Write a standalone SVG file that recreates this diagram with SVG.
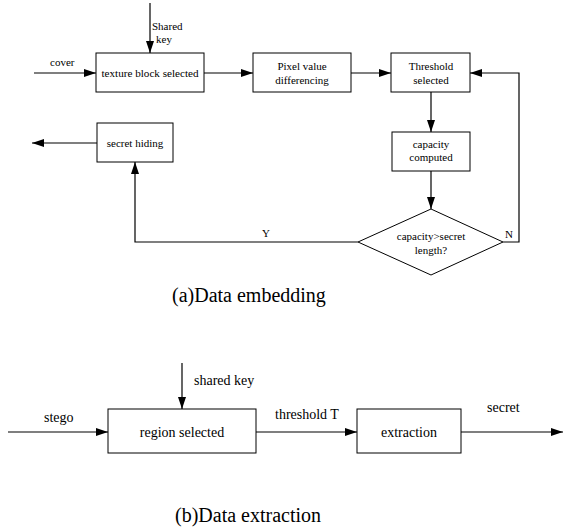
<svg xmlns="http://www.w3.org/2000/svg" width="564" height="528" viewBox="0 0 564 528">
<defs>
<marker id="ah" markerWidth="12" markerHeight="8" refX="12" refY="4" orient="auto" markerUnits="userSpaceOnUse">
<path d="M0,0 L12,4 L0,8 Z" fill="#000"/>
</marker>
<style>
.box{fill:#fff;stroke:#000;stroke-width:1}
.ar{fill:none;stroke:#000;stroke-width:1.2;marker-end:url(#ah)}
text{font-family:"Liberation Serif","Times New Roman",serif;fill:#000}
.s{font-size:11px}
.m{font-size:14px}
.c{font-size:20px}
.mid{text-anchor:middle}
</style>
</defs>
<rect width="564" height="528" fill="#fff"/>
<g id="connectors">
<line class="ar" x1="150" y1="3" x2="150" y2="53"/>
<line class="ar" x1="34" y1="73" x2="96" y2="73"/>
<line class="ar" x1="204" y1="73" x2="253" y2="73"/>
<line class="ar" x1="351" y1="73" x2="391" y2="73"/>
<line class="ar" x1="431" y1="92" x2="431" y2="132"/>
<line class="ar" x1="431" y1="171" x2="431" y2="209"/>
<polyline class="ar" points="503,242 519,242 519,73 470,73"/>
<polyline class="ar" points="358,242 135,242 135,162"/>
<line class="ar" x1="97" y1="143" x2="32" y2="143"/>
<line class="ar" x1="182" y1="363" x2="182" y2="409"/>
<line class="ar" x1="8" y1="432" x2="108" y2="432"/>
<line class="ar" x1="256" y1="432" x2="357" y2="432"/>
<line class="ar" x1="461" y1="432" x2="563" y2="432"/>
</g>
<g id="n_texture"><rect class="box" x="96" y="53" width="108" height="39"/><text class="s mid" x="150" y="77" textLength="97" lengthAdjust="spacingAndGlyphs">texture block selected</text></g>
<g id="n_pvd"><rect class="box" x="253" y="53" width="98" height="39"/><text class="s mid" x="302" y="70">Pixel value</text><text class="s mid" x="302" y="84">differencing</text></g>
<g id="n_threshold"><rect class="box" x="391" y="53" width="79" height="39"/><text class="s mid" x="431" y="70">Threshold</text><text class="s mid" x="431" y="84">selected</text></g>
<g id="n_capacity"><rect class="box" x="392" y="132" width="78" height="39"/><text class="s mid" x="431" y="148">capacity</text><text class="s mid" x="431" y="161">computed</text></g>
<g id="n_decision"><polygon class="box" points="431,209 503,242 431,275 358,242"/><text class="s mid" x="431" y="240">capacity&gt;secret</text><text class="s mid" x="431" y="254">length?</text></g>
<g id="n_hiding"><rect class="box" x="97" y="123" width="76" height="39"/><text class="s mid" x="135" y="147">secret hiding</text></g>
<g id="n_region"><rect class="box" x="108" y="409" width="148" height="44"/><text class="m mid" x="182" y="437">region selected</text></g>
<g id="n_extraction"><rect class="box" x="357" y="409" width="104" height="44"/><text class="m mid" x="409" y="437">extraction</text></g>
<g id="labels">
<text class="s" x="152" y="30">Shared</text>
<text class="s" x="156" y="43">key</text>
<text class="s" x="50" y="66">cover</text>
<text class="s" x="505" y="238">N</text>
<text class="s" x="262" y="237">Y</text>
<text class="m" x="194" y="385">shared key</text>
<text class="m" x="44" y="422">stego</text>
<text class="m" x="275" y="419">threshold T</text>
<text class="m" x="487" y="412">secret</text>
<text class="c" x="172" y="302">(a)Data embedding</text>
<text class="c" x="175" y="522">(b)Data extraction</text>
</g>
</svg>
